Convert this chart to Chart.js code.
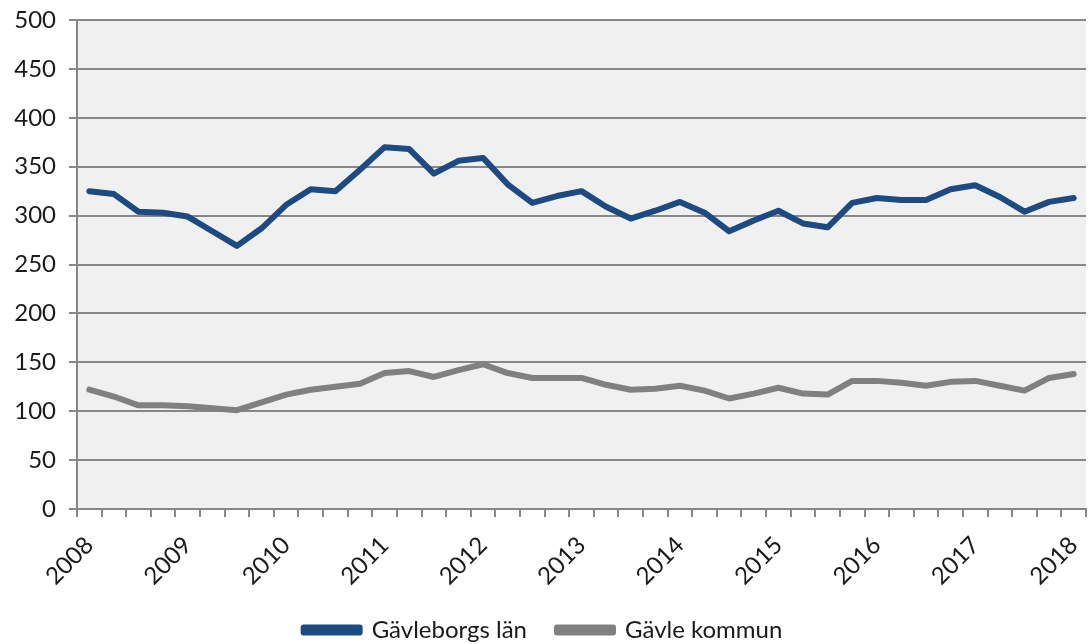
<!DOCTYPE html>
<html>
<head>
<meta charset="utf-8">
<script src="https://cdn.jsdelivr.net/npm/chart.js@4/dist/chart.umd.min.js"></script>
<style>
  html, body { margin: 0; padding: 0; background: #fff; }
  #wrap { width: 1090px; height: 644px; }
</style>
</head>
<body>
<div id="wrap"><canvas id="lineChart"></canvas></div>
<script>
// kvartal 2008 K1 - 2018 K1
const quarters = [
  '2008 K1','2008 K2','2008 K3','2008 K4',
  '2009 K1','2009 K2','2009 K3','2009 K4',
  '2010 K1','2010 K2','2010 K3','2010 K4',
  '2011 K1','2011 K2','2011 K3','2011 K4',
  '2012 K1','2012 K2','2012 K3','2012 K4',
  '2013 K1','2013 K2','2013 K3','2013 K4',
  '2014 K1','2014 K2','2014 K3','2014 K4',
  '2015 K1','2015 K2','2015 K3','2015 K4',
  '2016 K1','2016 K2','2016 K3','2016 K4',
  '2017 K1','2017 K2','2017 K3','2017 K4',
  '2018 K1'
]

const gavleborgsLan = [
  325, 322, 304, 303, 299, 284, 269, 287, 311, 327, 325,
  347, 370, 368, 343, 356, 359, 332, 313, 320, 325,
  309, 297, 305, 314, 303, 284, 295, 305, 292, 288,
  313, 318, 316, 316, 327, 331, 319, 304, 314, 318
]

const gavleKommun = [
  122, 115, 106, 106, 105, 103, 101, 109, 117, 122, 125,
  128, 139, 141, 135, 142, 148, 139, 134, 134, 134,
  127, 122, 123, 126, 121, 113, 118, 124, 118, 117,
  131, 131, 129, 126, 130, 131, 126, 121, 134, 138
]

const yTicks = [0, 50, 100, 150, 200, 250, 300, 350, 400, 450, 500]

const gridGray = '#878787'
const fontFamily = 'Lato, "Open Sans", sans-serif'

const plotBackground = {
    id: 'plotBackground',
    beforeDraw(chart) {
        const {ctx, chartArea: a} = chart
        ctx.save()
        ctx.fillStyle = '#f0f0f0'
        ctx.fillRect(a.left, a.top, a.right - a.left, a.bottom - a.top)
        ctx.restore()
    }
}

const ctx = document.getElementById('lineChart')
new Chart(ctx, {
    type: 'line',
    data: {
        labels: quarters,
        datasets: [{
            label: 'Gävleborgs län',
            data: gavleborgsLan,
            borderColor: '#1e4a82',
            backgroundColor: '#1e4a82',
            borderWidth: 6,
            pointRadius: 0,
            tension: 0,
            borderJoinStyle: 'round',
            borderCapStyle: 'round'
        }, {
            label: 'Gävle kommun',
            data: gavleKommun,
            borderColor: '#808080',
            backgroundColor: '#808080',
            borderWidth: 6,
            pointRadius: 0,
            tension: 0,
            borderJoinStyle: 'round',
            borderCapStyle: 'round'
        }]
    },
    options: {
        responsive: true,
        maintainAspectRatio: false,
        animation: false,
        layout: { padding: { top: 20, right: 4, left: 0, bottom: -8 } },
        plugins: {
            tooltip: { enabled: false },
            legend: {
                position: 'bottom',
                labels: {
                    boxWidth: 56,
                    boxHeight: 5,
                    padding: 30,
                    color: '#1a1a1a',
                    font: { family: fontFamily, size: 24 }
                }
            }
        },
        scales: {
            x: {
                offset: true,
                afterFit: (scale) => {
                    scale.height = 79
                    scale.paddingLeft = 0
                    scale.paddingRight = 0
                },
                grid: {
                    display: true,
                    offset: true,
                    drawOnChartArea: false,
                    tickLength: 8,
                    color: gridGray,
                    lineWidth: 2
                },
                border: { color: gridGray, width: 2 },
                ticks: {
                    autoSkip: false,
                    maxRotation: 45,
                    minRotation: 45,
                    padding: 14,
                    color: '#1a1a1a',
                    font: { family: fontFamily, size: 24 },
                    callback: function (value, index) {
                        let q = quarters[index]
                        return q.endsWith('K1') ? q.slice(0, 4) : ''
                    }
                }
            },
            y: {
                min: 0,
                max: 500,
                afterFit: (scale) => {
                    scale.width = 77
                    scale.paddingTop = 0
                    scale.paddingBottom = 0
                },
                afterBuildTicks: (scale) => { scale.ticks = yTicks.map(v => ({ value: v })) },
                grid: {
                    color: gridGray,
                    lineWidth: 2,
                    tickLength: 8
                },
                border: { color: gridGray, width: 2 },
                ticks: {
                    padding: 13,
                    color: '#1a1a1a',
                    font: { family: fontFamily, size: 24 }
                }
            }
        }
    },
    plugins: [plotBackground]
})
</script>
</body>
</html>
